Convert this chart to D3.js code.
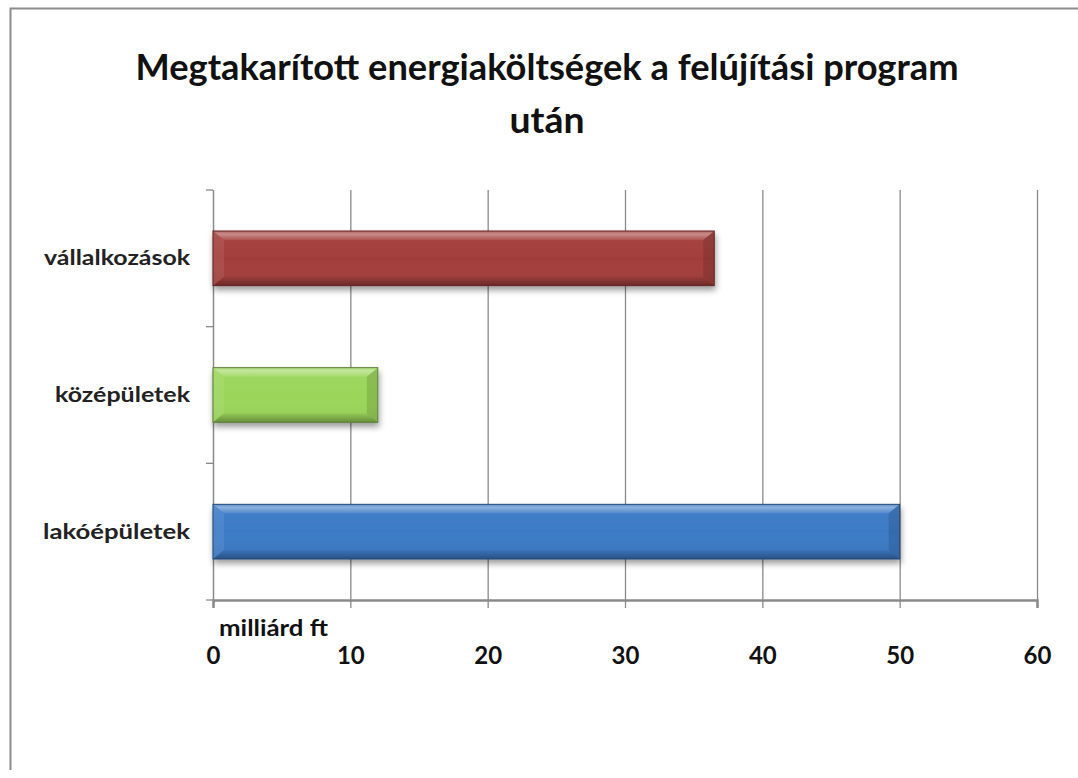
<!DOCTYPE html>
<html><head><meta charset="utf-8">
<script src="https://cdn.jsdelivr.net/npm/d3@7/dist/d3.min.js"></script>
<style>body{margin:0;background:#fff}</style>
</head><body>
<svg id="c" width="1078" height="778"></svg>
<script>
const categories = ["vállalkozások", "középületek", "lakóépületek"];
const values = [36.5, 12, 50];
const colors = ["#a33e3b", "#9bd65a", "#3c7ac6"];
const xTicks = [0, 10, 20, 30, 40, 50, 60];
const titleLines = ["Megtakarított energiaköltségek a felújítási program", "után"];
const unitLabel = "milliárd ft";

const svg = d3.select("#c");
const W = 1078, H = 778;
const m = {left: 213, right: 1037, top: 190, bottom: 600};
const FONT = "Lato";

// frame
svg.append("path").attr("d", `M10.5,${H-8} V8.5 H${W}`).attr("fill","none").attr("stroke","#8c8c8c").attr("stroke-width",2);

const x = d3.scaleLinear().domain([0, 60]).range([m.left, m.right]);
const y = d3.scaleBand().domain(categories).range([m.top, m.bottom]).paddingInner(0.6).paddingOuter(0.3);

const defs = svg.append("defs");
const f = defs.append("filter").attr("id","sh").attr("x","-5%").attr("y","-20%").attr("width","110%").attr("height","160%");
f.append("feGaussianBlur").attr("in","SourceAlpha").attr("stdDeviation",3).attr("result","b");
f.append("feOffset").attr("in","b").attr("dy",4).attr("dx",1).attr("result","o");
f.append("feComponentTransfer").attr("in","o").attr("result","o2").append("feFuncA").attr("type","linear").attr("slope",0.4);
const mg = f.append("feMerge"); mg.append("feMergeNode").attr("in","o2"); mg.append("feMergeNode").attr("in","SourceGraphic");

function lg(id, stops, vertical){
  const g = defs.append("linearGradient").attr("id",id).attr("x1",0).attr("y1",0).attr("x2",vertical?0:1).attr("y2",vertical?1:0);
  stops.forEach(([o,c,a])=>g.append("stop").attr("offset",o).attr("stop-color",c).attr("stop-opacity",a));
}
lg("gTop",[[0,"#fff",0.15],[0.35,"#fff",0.38],[1,"#fff",0.08]],true);
lg("gBot",[[0,"#000",0.04],[1,"#000",0.3]],true);
lg("gMid",[[0,"#fff",0.05],[0.5,"#fff",0],[1,"#000",0.06]],true);

// gridlines
svg.append("g").selectAll("line").data(xTicks.slice(1)).join("line")
  .attr("x1",d=>x(d)+0.5).attr("x2",d=>x(d)+0.5).attr("y1",m.top).attr("y2",m.bottom)
  .attr("stroke","#8a8a8a").attr("stroke-width",1.3);

// x axis
const xa = svg.append("g").attr("transform",`translate(0,${m.bottom})`)
  .call(d3.axisBottom(x).tickValues(xTicks).tickSize(8).tickPadding(0));
xa.select(".domain").attr("stroke","#8a8a8a").attr("stroke-width",2.5);
xa.selectAll(".tick line").attr("stroke","#8a8a8a").attr("stroke-width",1.3);
xa.selectAll(".tick text").attr("font-family",FONT).attr("font-weight","bold")
  .attr("font-size",24).attr("fill","#111").attr("y",64).attr("dy",null);

// y axis
const ya = svg.append("g").attr("transform",`translate(${m.left},0)`);
ya.append("line").attr("x1",0.5).attr("x2",0.5).attr("y1",m.top).attr("y2",m.bottom).attr("stroke","#8a8a8a").attr("stroke-width",1.5);
const bounds = d3.range(categories.length+1).map(i=>m.top + i*y.step());
ya.selectAll(".yt").data(bounds).join("line").attr("x1",-7).attr("x2",0).attr("y1",d=>d).attr("y2",d=>d).attr("stroke","#8a8a8a").attr("stroke-width",1.3);

ya.selectAll(".yl").data(categories).join("text")
  .attr("x",-23).attr("y",d=>y(d)+y.bandwidth()/2+7)
  .attr("text-anchor","end").attr("font-family",FONT).attr("font-weight","bold").attr("font-size",20).attr("fill","#222")
  .attr("textLength",(d,i)=>[146,135,147][i]).attr("lengthAdjust","spacingAndGlyphs")
  .text(d=>d);

// bars with bevel
const bars = svg.append("g").selectAll("g").data(values).join("g").attr("filter","url(#sh)");
bars.each(function(d,i){
  const g = d3.select(this);
  const x0 = x(0), x1 = x(d), y0 = y(categories[i]), h = y.bandwidth(), y1 = y0 + h;
  const b = 11, bt = 9;
  g.append("rect").attr("x",x0).attr("y",y0).attr("width",x1-x0).attr("height",h).attr("fill",colors[i]);
  g.append("rect").attr("x",x0).attr("y",y0).attr("width",x1-x0).attr("height",h).attr("fill","url(#gMid)");
  g.append("path").attr("d",`M${x0},${y0}L${x1},${y0}L${x1-b},${y0+bt}L${x0+b},${y0+bt}Z`).attr("fill","url(#gTop)");
  g.append("path").attr("d",`M${x0},${y1}L${x1},${y1}L${x1-b},${y1-bt}L${x0+b},${y1-bt}Z`).attr("fill","url(#gBot)");
  g.append("path").attr("d",`M${x0},${y0}L${x0+b},${y0+bt}L${x0+b},${y1-bt}L${x0},${y1}Z`).attr("fill","#fff").attr("fill-opacity",0.08);
  g.append("path").attr("d",`M${x1},${y0}L${x1-b},${y0+bt}L${x1-b},${y1-bt}L${x1},${y1}Z`).attr("fill","#000").attr("fill-opacity",0.12);
  g.append("rect").attr("x",x0).attr("y",y0).attr("width",x1-x0).attr("height",h).attr("fill","none")
    .attr("stroke",d3.interpolateRgb(colors[i],"#000")(0.4)).attr("stroke-width",1);
});

// title
svg.append("g").selectAll("text").data(titleLines).join("text")
  .attr("x",547).attr("y",(d,i)=>80+i*53).attr("text-anchor","middle")
  .attr("font-family",FONT).attr("font-weight","bold").attr("font-size",37).attr("fill","#111")
  .attr("textLength",(d,i)=>i===0?823:75).attr("lengthAdjust","spacingAndGlyphs")
  .text(d=>d);

svg.append("text").attr("x",219).attr("y",636).attr("font-family",FONT).attr("font-weight","bold")
  .attr("font-size",22).attr("fill","#111").attr("textLength",109).attr("lengthAdjust","spacingAndGlyphs").text(unitLabel);
</script>
</body></html>
